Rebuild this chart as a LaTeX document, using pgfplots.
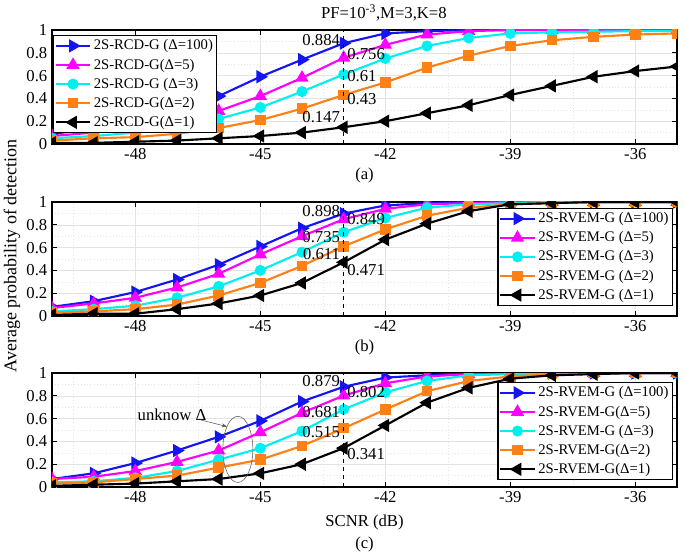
\documentclass[border=0pt]{standalone}
\usepackage{pgfplots}
\pgfplotsset{compat=1.18}
\usepackage{fontspec}
\setmainfont{Liberation Serif}
\usetikzlibrary{arrows.meta}
\definecolor{cblue}{RGB}{20,20,245}
\definecolor{cmag}{RGB}{255,0,255}
\definecolor{ccyan}{RGB}{0,240,240}
\definecolor{corange}{RGB}{255,128,20}
\newcommand{\tf}{\fontsize{12.5}{14}\selectfont}
\newcommand{\lf}{\fontsize{11}{12.5}\selectfont}
\pgfplotsset{
 myaxis/.style={
  scale only axis, width=468.75pt, height=85.5pt,
  xmin=-50, xmax=-35, ymin=0, ymax=1,
  clip mode=individual,
  xtick={-48,-45,-42,-39,-36}, ytick={0,0.2,0.4,0.6,0.8,1},
  minor xtick={-49.5,-46.5,-43.5,-40.5,-37.5},
  minor ytick={0.1,0.3,0.5,0.7,0.9},
  grid=both,
  major grid style={gray!22, line width=0.4pt},
  minor grid style={gray!20, dotted, line width=0.4pt},
  minor tick length=0pt, major tick length=3.5pt,
  tick align=inside, xtick pos=both, ytick pos=both,
  axis line style={line width=0.9pt},
  tick style={black, line width=0.6pt},
  ticklabel style={font=\tf},
  /pgf/number format/assume math mode=true,
  clip marker paths=true,
  legend cell align=left,
  legend style={font=\lf, draw=black, line width=0.8pt, fill=white,
    inner xsep=1pt, inner ysep=1.2pt, row sep=1.2pt},
  legend image code/.code={\draw[mark repeat=2,mark phase=2] plot coordinates {(0cm,0cm) (0.45cm,0cm) (0.9cm,0cm)};},
 },
 sb/.style={cblue, line width=1.6pt, mark=triangle*, mark size=4.2pt, mark options={rotate=-90, solid}},
 sm/.style={cmag, line width=1.6pt, mark=triangle*, mark size=4.2pt, mark options={solid}},
 sc/.style={ccyan, line width=1.6pt, mark=*, mark size=3.3pt, mark options={solid}},
 so/.style={corange, line width=1.6pt, mark=square*, mark size=3.1pt, mark options={solid}},
 sk/.style={black, line width=1.6pt, mark=triangle*, mark size=4.2pt, mark options={rotate=90, solid}},
}
\begin{document}
\begin{tikzpicture}
\path[use as bounding box] (-39pt,-49.5pt) rectangle (474.75pt,365.25pt);
\node[font=\fontsize{13.5}{15}\selectfont, rotate=90] at (-30pt,173.25pt) {Average probability of detection};

% ---------------- (a)
\begin{axis}[myaxis, at={(0pt,257.25pt)}, anchor=south west,
  legend style={at={(axis description cs:0.0016,0.956)}, anchor=north west}]
\addplot[sb] coordinates {(-50,0.09)(-49,0.13)(-48,0.19)(-47,0.29)(-46,0.42)(-45,0.59)(-44,0.74)(-43,0.884)(-42,0.97)(-41,0.99)(-40,1)(-39,1)(-38,1)(-37,1)(-36,1)(-35,1)};
\addlegendentry{2S-RCD-G (Δ=100)}
\addplot[sm] coordinates {(-50,0.07)(-49,0.1)(-48,0.14)(-47,0.2)(-46,0.29)(-45,0.42)(-44,0.58)(-43,0.756)(-42,0.87)(-41,0.96)(-40,0.99)(-39,1)(-38,1)(-37,1)(-36,1)(-35,1)};
\addlegendentry{2S-RCD-G(Δ=5)}
\addplot[sc] coordinates {(-50,0.05)(-49,0.07)(-48,0.1)(-47,0.15)(-46,0.22)(-45,0.32)(-44,0.46)(-43,0.61)(-42,0.75)(-41,0.86)(-40,0.93)(-39,0.97)(-38,0.98)(-37,0.985)(-36,0.99)(-35,0.99)};
\addlegendentry{2S-RCD-G (Δ=3)}
\addplot[so] coordinates {(-50,0.03)(-49,0.05)(-48,0.06)(-47,0.09)(-46,0.14)(-45,0.21)(-44,0.31)(-43,0.43)(-42,0.54)(-41,0.67)(-40,0.775)(-39,0.86)(-38,0.91)(-37,0.94)(-36,0.96)(-35,0.97)};
\addlegendentry{2S-RCD-G(Δ=2)}
\addplot[sk] coordinates {(-50,0.01)(-49,0.01)(-48,0.02)(-47,0.03)(-46,0.05)(-45,0.07)(-44,0.10)(-43,0.147)(-42,0.20)(-41,0.27)(-40,0.34)(-39,0.43)(-38,0.51)(-37,0.59)(-36,0.64)(-35,0.68)};
\addlegendentry{2S-RCD-G(Δ=1)}
\draw[black, dashed, line width=0.5pt] (axis cs:-43,0) -- (axis cs:-43,1);
\node[font=\tf, anchor=east, inner sep=1pt] at (axis cs:-43.05,0.91) {0.884};
\node[font=\tf, anchor=west, inner sep=1pt] at (axis cs:-42.95,0.79) {0.756};
\node[font=\tf, anchor=west, inner sep=1pt] at (axis cs:-42.95,0.593) {0.61};
\node[font=\tf, anchor=west, inner sep=1pt] at (axis cs:-42.95,0.39) {0.43};
\node[font=\tf, anchor=east, inner sep=1pt] at (axis cs:-43.05,0.233) {0.147};
\node[font=\tf] at (axis description cs:0.531,1.15) {PF=10\textsuperscript{-3},M=3,K=8};
\node[font=\tf] at (axis description cs:0.5,-0.272) {(a)};
\end{axis}

% ---------------- (b)
\begin{axis}[myaxis, at={(0pt,128.25pt)}, anchor=south west,
  legend style={at={(axis description cs:0.9936,0.088)}, anchor=south east}]
\addplot[sb] coordinates {(-50,0.08)(-49,0.13)(-48,0.21)(-47,0.32)(-46,0.45)(-45,0.61)(-44,0.77)(-43,0.898)(-42,0.97)(-41,0.99)(-40,1)(-39,1)(-38,1)(-37,1)(-36,1)(-35,1)};
\addlegendentry{2S-RVEM-G (Δ=100)}
\addplot[sm] coordinates {(-50,0.07)(-49,0.11)(-48,0.16)(-47,0.25)(-46,0.37)(-45,0.54)(-44,0.70)(-43,0.849)(-42,0.94)(-41,0.98)(-40,0.99)(-39,1)(-38,1)(-37,1)(-36,1)(-35,1)};
\addlegendentry{2S-RVEM-G (Δ=5)}
\addplot[sc] coordinates {(-50,0.04)(-49,0.06)(-48,0.09)(-47,0.16)(-46,0.26)(-45,0.40)(-44,0.56)(-43,0.735)(-42,0.86)(-41,0.95)(-40,0.98)(-39,0.99)(-38,1)(-37,1)(-36,1)(-35,1)};
\addlegendentry{2S-RVEM-G (Δ=3)}
\addplot[so] coordinates {(-50,0.03)(-49,0.04)(-48,0.06)(-47,0.10)(-46,0.18)(-45,0.29)(-44,0.44)(-43,0.611)(-42,0.76)(-41,0.88)(-40,0.95)(-39,0.98)(-38,0.99)(-37,1)(-36,1)(-35,1)};
\addlegendentry{2S-RVEM-G (Δ=2)}
\addplot[sk] coordinates {(-50,0.01)(-49,0.02)(-48,0.02)(-47,0.06)(-46,0.11)(-45,0.18)(-44,0.29)(-43,0.471)(-42,0.67)(-41,0.81)(-40,0.92)(-39,0.98)(-38,0.99)(-37,1)(-36,1)(-35,1)};
\addlegendentry{2S-RVEM-G (Δ=1)}
\draw[black, dashed, line width=0.5pt] (axis cs:-43,0) -- (axis cs:-43,1);
\node[font=\tf, anchor=east, inner sep=1pt] at (axis cs:-43.05,0.92) {0.898};
\node[font=\tf, anchor=west, inner sep=1pt] at (axis cs:-42.95,0.849) {0.849};
\node[font=\tf, anchor=east, inner sep=1pt] at (axis cs:-43.05,0.69) {0.735};
\node[font=\tf, anchor=east, inner sep=1pt] at (axis cs:-43.05,0.544) {0.611};
\node[font=\tf, anchor=west, inner sep=1pt] at (axis cs:-42.95,0.40) {0.471};
\node[font=\tf] at (axis description cs:0.5,-0.272) {(b)};
\end{axis}

% ---------------- (c)
\begin{axis}[myaxis, at={(0pt,0pt)}, anchor=south west,
  legend style={at={(axis description cs:0.9936,0.06)}, anchor=south east}]
\addplot[sb] coordinates {(-50,0.07)(-49,0.12)(-48,0.21)(-47,0.32)(-46,0.44)(-45,0.58)(-44,0.75)(-43,0.879)(-42,0.96)(-41,0.98)(-40,1)(-39,1)(-38,1)(-37,1)(-36,1)(-35,1)};
\addlegendentry{2S-RVEM-G (Δ=100)}
\addplot[sm] coordinates {(-50,0.07)(-49,0.09)(-48,0.14)(-47,0.22)(-46,0.32)(-45,0.48)(-44,0.65)(-43,0.802)(-42,0.91)(-41,0.97)(-40,0.99)(-39,1)(-38,1)(-37,1)(-36,1)(-35,1)};
\addlegendentry{2S-RVEM-G(Δ=5)}
\addplot[sc] coordinates {(-50,0.04)(-49,0.05)(-48,0.08)(-47,0.14)(-46,0.24)(-45,0.34)(-44,0.49)(-43,0.681)(-42,0.83)(-41,0.93)(-40,0.98)(-39,0.99)(-38,1)(-37,1)(-36,1)(-35,1)};
\addlegendentry{2S-RVEM-G (Δ=3)}
\addplot[so] coordinates {(-50,0.03)(-49,0.04)(-48,0.07)(-47,0.10)(-46,0.17)(-45,0.24)(-44,0.36)(-43,0.515)(-42,0.68)(-41,0.84)(-40,0.93)(-39,0.97)(-38,0.99)(-37,1)(-36,1)(-35,1)};
\addlegendentry{2S-RVEM-G(Δ=2)}
\addplot[sk] coordinates {(-50,0.01)(-49,0.02)(-48,0.03)(-47,0.05)(-46,0.07)(-45,0.12)(-44,0.20)(-43,0.341)(-42,0.54)(-41,0.74)(-40,0.87)(-39,0.95)(-38,0.98)(-37,0.99)(-36,1)(-35,1)};
\addlegendentry{2S-RVEM-G(Δ=1)}
\draw[black, dashed, line width=0.5pt] (axis cs:-43,0) -- (axis cs:-43,1);
\node[font=\tf, anchor=east, inner sep=1pt] at (axis cs:-43.05,0.93) {0.879};
\node[font=\tf, anchor=west, inner sep=1pt] at (axis cs:-42.95,0.83) {0.802};
\node[font=\tf, anchor=east, inner sep=1pt] at (axis cs:-43.05,0.655) {0.681};
\node[font=\tf, anchor=east, inner sep=1pt] at (axis cs:-43.05,0.48) {0.515};
\node[font=\tf, anchor=west, inner sep=1pt] at (axis cs:-42.95,0.29) {0.341};
\draw[gray!70!black, line width=0.4pt] (axis cs:-45.54,0.33) ellipse [x radius=11.25pt, y radius=24.8pt];
\node[font=\tf] at (axis cs:-47.12,0.63) {unknow Δ};
\draw[gray!70!black, line width=0.4pt, -{Stealth[length=4pt,width=3pt]}] (axis cs:-46.45,0.59) -- (axis cs:-45.80,0.53);
\node[font=\tf] at (axis description cs:0.5,-0.31) {SCNR (dB)};
\node[font=\tf] at (axis description cs:0.5,-0.50) {(c)};
\end{axis}
\end{tikzpicture}
\end{document}
